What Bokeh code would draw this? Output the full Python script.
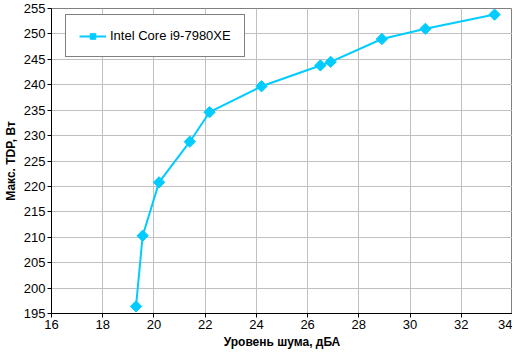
import math
from bokeh.plotting import figure
from bokeh.models import FixedTicker, Legend, LegendItem, Range1d
from bokeh.embed import file_html
from bokeh.resources import INLINE

# Data
noise_dba = [19.3, 19.56, 20.2, 21.4, 22.17, 24.2, 26.5, 26.9, 28.9, 30.6, 33.3]
max_tdp_w = [196.4, 210.3, 220.8, 228.8, 234.6, 239.7, 243.8, 244.5, 249.0, 251.0, 253.8]
series_name = "Intel Core i9-7980XE"
x_ticks = [16, 18, 20, 22, 24, 26, 28, 30, 32, 34]
y_ticks = [195, 200, 205, 210, 215, 220, 225, 230, 235, 240, 245, 250, 255]
x_title = "Уровень шума, дБА"
y_title = "Макс. TDP, Вт"

FONT = "Liberation Sans"
COLOR = "#00CCFF"

p = figure(width=512, height=351, output_backend="svg", toolbar_location=None,
           x_range=Range1d(16, 34), y_range=Range1d(195, 255),
           min_border_left=40, min_border_right=0, min_border_top=8, min_border_bottom=30)

p.background_fill_color = "white"
p.border_fill_color = "white"
p.outline_line_color = "#808080"
p.outline_line_width = 1

for ax, ticks in ((p.xaxis[0], x_ticks), (p.yaxis[0], y_ticks)):
    ax.ticker = FixedTicker(ticks=ticks)
    ax.axis_line_color = "black"
    ax.axis_line_width = 1
    ax.major_tick_line_color = "black"
    ax.major_tick_out = 4
    ax.major_tick_in = 0
    ax.minor_tick_line_color = None
    ax.major_label_text_font = FONT
    ax.major_label_text_font_size = "13px"
    ax.major_label_text_color = "black"
    ax.axis_label_text_font = FONT
    ax.axis_label_text_font_size = "12px"
    ax.axis_label_text_font_style = "bold"
    ax.axis_label_text_color = "black"
    ax.major_label_standoff = 2

p.xaxis.axis_label = x_title
p.yaxis.axis_label = y_title
p.xaxis.axis_label_standoff = 3
p.yaxis.axis_label_standoff = 3

p.xgrid.ticker = FixedTicker(ticks=x_ticks)
p.ygrid.ticker = FixedTicker(ticks=y_ticks)
p.grid.grid_line_color = "#C0C0C0"
p.grid.grid_line_width = 1

line = p.line(noise_dba, max_tdp_w, line_color=COLOR, line_width=2)
pts = p.scatter(noise_dba, max_tdp_w, marker="square", size=8, angle=math.pi / 4,
                fill_color=COLOR, line_color=COLOR)

legend = Legend(items=[LegendItem(label=series_name, renderers=[line, pts])],
                location=(14, 256))
legend.border_line_color = "black"
legend.border_line_width = 1
legend.background_fill_color = "white"
legend.background_fill_alpha = 1
legend.label_text_font = FONT
legend.label_text_font_size = "13px"
legend.label_text_color = "black"
legend.glyph_width = 27
legend.glyph_height = 14
legend.label_height = 14
legend.label_standoff = 4
legend.padding = 13
legend.margin = 0
p.add_layout(legend)

open("out.html", "w").write(file_html(p, INLINE))
